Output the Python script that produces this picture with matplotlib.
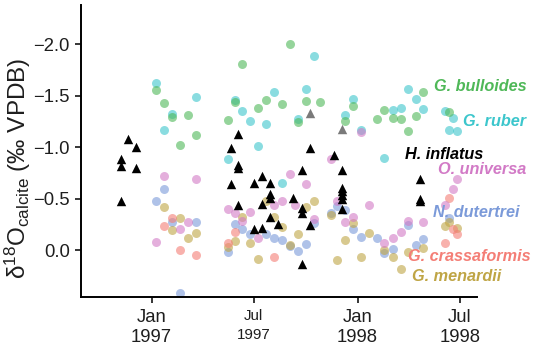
import matplotlib
matplotlib.use("Agg")
import matplotlib.pyplot as plt
import pandas as pd
import numpy as np

plt.rcParams['font.family'] = ['Liberation Sans', 'DejaVu Sans']
plt.rcParams['mathtext.fontset'] = 'custom'
plt.rcParams['mathtext.rm'] = 'Liberation Sans'
plt.rcParams['mathtext.it'] = 'Liberation Sans:italic'

# ---------------- data (date, d18O) ----------------
bull_dates = ["1997-01-09", "1997-01-23", "1997-02-06", "1997-02-20", "1997-03-06", "1997-03-20",
              "1997-05-17", "1997-05-28", "1997-06-11", "1997-07-09", "1997-07-23", "1997-08-20",
              "1997-09-03", "1997-09-17", "1997-10-01", "1997-10-27", "1997-12-10", "1997-12-24",
              "1998-02-04", "1998-02-17", "1998-03-04", "1998-03-18", "1998-04-01", "1998-04-15",
              "1998-04-27", "1998-06-12"]
bull_vals = [-1.55, -1.43, -1.29, -1.02, -1.31, -1.12,
             -1.26, -1.44, -1.81, -1.38, -1.46, -1.42,
             -2.00, -1.24, -1.45, -1.44, -1.25, -1.40,
             -1.27, -1.36, -1.28, -1.27, -1.16, -1.30,
             -1.53, -1.34]

ruber_dates = ["1997-01-09", "1997-01-23", "1997-02-06", "1997-03-20",
               "1997-05-17", "1997-05-28", "1997-06-11", "1997-06-25", "1997-07-09", "1997-07-23",
               "1997-08-06", "1997-08-20", "1997-09-17", "1997-10-01", "1997-10-15", "1997-12-10",
               "1997-12-24", "1998-01-07", "1998-02-17", "1998-03-04", "1998-03-18", "1998-04-01",
               "1998-04-15", "1998-04-27", "1998-06-05", "1998-06-12", "1998-06-19", "1998-06-26"]
ruber_vals = [-1.62, -1.17, -1.32, -1.49,
              -0.88, -1.46, -1.35, -1.25, -1.01, -1.22,
              -1.53, -0.65, -1.27, -1.56, -1.88, -1.31,
              -1.47, -1.17, -0.89, -1.36, -1.38, -1.56,
              -1.47, -1.37, -1.35, -1.17, -1.28, -1.16]

univ_dates = ["1997-01-09", "1997-01-23", "1997-02-20", "1997-03-06", "1997-03-20",
              "1997-05-17", "1997-05-28", "1997-06-11", "1997-06-25", "1997-07-09", "1997-08-06",
              "1997-08-20", "1997-09-03", "1997-09-12", "1997-10-01", "1997-10-15", "1997-11-15",
              "1997-11-26", "1997-12-10", "1997-12-24", "1998-01-07", "1998-01-21", "1998-02-17",
              "1998-03-04", "1998-03-18", "1998-04-01", "1998-04-27", "1998-06-05", "1998-06-19",
              "1998-06-26"]
univ_vals = [-0.08, -0.72, -0.20, -0.27, -0.69,
             -0.40, -0.36, -0.28, -0.37, -0.12, -0.44,
             -0.48, -0.74, -0.44, -0.64, -0.30, -0.88,
             -0.48, -0.27, -0.32, -1.15, -0.44, -0.07,
             -0.12, -0.18, -0.28, -0.27, -0.44, -0.59,
             -0.69]

dut_dates = ["1997-01-09", "1997-01-23", "1997-02-06", "1997-02-20", "1997-03-20",
             "1997-05-17", "1997-05-28", "1997-06-11", "1997-06-25", "1997-07-23", "1997-08-06",
             "1997-08-20", "1997-09-03", "1997-09-17", "1997-10-01", "1997-10-15", "1997-11-15",
             "1997-11-26", "1997-12-10", "1997-12-24", "1998-01-07", "1998-02-04", "1998-02-17",
             "1998-03-04", "1998-04-01", "1998-04-15", "1998-04-27", "1998-06-12"]
dut_vals = [-0.48, -0.59, -0.27, 0.42, -0.27,
            0.02, -0.25, -0.20, -0.16, -0.16, -0.12,
            -0.10, -0.04, 0.01, -0.06, -0.26, -0.36,
            -0.43, -0.39, -0.20, -0.13, -0.12, 0.03,
            -0.01, -0.24, -0.05, -0.11, -0.31]

crass_dates = ["1997-01-23", "1997-02-06", "1997-02-20", "1997-03-20",
               "1997-05-17", "1997-05-28", "1997-08-06",
               "1998-06-05", "1998-06-12", "1998-06-19", "1998-06-26"]
crass_vals = [-0.23, -0.31, 0.00, 0.05,
              -0.07, -0.18, 0.07,
              -0.07, -0.51, -0.20, -0.16]

men_dates = ["1997-01-23", "1997-02-06", "1997-02-20", "1997-03-06", "1997-03-20",
             "1997-05-17", "1997-05-28", "1997-06-11", "1997-06-25", "1997-07-09", "1997-07-23",
             "1997-08-06", "1997-08-20", "1997-09-03", "1997-09-17", "1997-10-01", "1997-10-15",
             "1997-11-15", "1997-11-26", "1997-12-10", "1997-12-24", "1998-01-07", "1998-01-21",
             "1998-02-17", "1998-03-04", "1998-03-18", "1998-04-01", "1998-04-27", "1998-06-05",
             "1998-06-12", "1998-06-26"]
men_vals = [-0.42, -0.19, -0.31, -0.12, -0.17,
            -0.03, -0.09, -0.32, -0.07, 0.09, -0.48,
            -0.32, -0.22, -0.05, -0.16, -0.42, -0.48,
            -0.34, 0.10, -0.10, -0.26, 0.07, -0.17,
            0.00, 0.07, 0.18, 0.02, -0.02, -0.23,
            -0.27, -0.21]

infl_dates = ["1996-11-07", "1996-11-07", "1996-11-07", "1996-11-21", "1996-12-05", "1996-12-05",
              "1997-05-21", "1997-05-21", "1997-06-03", "1997-06-03", "1997-06-03", "1997-06-03",
              "1997-07-02", "1997-07-02", "1997-07-16", "1997-07-16", "1997-07-16",
              "1997-07-30", "1997-07-30", "1997-07-30", "1997-07-30", "1997-08-13", "1997-09-09",
              "1997-09-24", "1997-09-24", "1997-09-24", "1997-09-24", "1997-10-08", "1997-10-08",
              "1997-11-20", "1997-12-04", "1997-12-04", "1997-12-04", "1997-12-04", "1997-12-04",
              "1997-12-04", "1998-04-21", "1998-04-21", "1998-04-21"]
infl_vals = [-0.88, -0.82, -0.48, -1.08, -1.00, -0.80,
             -0.99, -0.64, -1.13, -0.83, -0.80, -0.44,
             -0.65, -0.20, -0.72, -0.45, -0.21,
             -0.65, -0.54, -0.51, -0.32, -0.25, -0.51,
             -0.78, -0.41, -0.36, 0.14, -0.99, -0.24,
             -0.92, -0.78, -0.60, -0.57, -0.53, -0.50,
             -0.40, -0.69, -0.50, -0.48]

infl_grey_dates = ["1997-10-08", "1997-12-04"]
infl_grey_vals = [-1.33, -1.18]

species = ["G. bulloides", "G. ruber", "H. inflatus", "O. universa",
           "N. dutertrei", "G. crassaformis", "G. menardii"]
colors = {"G. bulloides": "#4FB858", "G. ruber": "#3CC6CC", "H. inflatus": "#000000",
          "O. universa": "#D27AC6", "N. dutertrei": "#7B9AD9",
          "G. crassaformis": "#F47E76", "G. menardii": "#BFA545"}
label_dates = ["1998-05-17", "1998-07-07", "1998-03-26", "1998-05-24",
               "1998-05-14", "1998-04-01", "1998-04-07"]
label_vals = [-1.585, -1.245, -0.93, -0.78, -0.366, 0.065, 0.26]

tick_dates = ["1997-01-01", "1997-07-01", "1998-01-01", "1998-07-01"]
tick_labels = ["Jan\n1997", "Jul\n1997", "Jan\n1998", "Jul\n1998"]
yticks = [-2.0, -1.5, -1.0, -0.5, 0.0]

# ---------------- plot ----------------
fig = plt.figure(figsize=(5.36, 3.46), dpi=100)
ax = fig.add_axes([0.1511, 0.1425, 0.7394, 0.843])

def td(d):
    return pd.to_datetime(d)

dot_kw = dict(s=42, alpha=0.6, linewidths=0, zorder=2)
series = [("G. ruber", ruber_dates, ruber_vals),
          ("G. bulloides", bull_dates, bull_vals),
          ("N. dutertrei", dut_dates, dut_vals),
          ("G. menardii", men_dates, men_vals),
          ("G. crassaformis", crass_dates, crass_vals),
          ("O. universa", univ_dates, univ_vals)]
for name, d, v in series:
    ax.scatter(td(d), v, color=colors[name], **dot_kw)

ax.scatter(td(infl_dates), infl_vals, marker='^', s=46, color='black', linewidths=0, zorder=3)
ax.scatter(td(infl_grey_dates), infl_grey_vals, marker='^', s=46, color='#7a7a7a', linewidths=0, zorder=3)

for name, d, v in zip(species, label_dates, label_vals):
    ax.text(td(d), v, name, color=colors[name], fontsize=11.7, fontweight='bold',
            fontstyle='italic', ha='left', va='center', zorder=4)

ax.set_xlim(td("1997-01-01") - pd.Timedelta(days=125), td("1997-01-01") + pd.Timedelta(days=577))
ax.set_ylim(0.453, -2.379)

ax.set_xticks(td(tick_dates))
ax.set_xticklabels(tick_labels)
ax.set_yticks(yticks)
ax.set_yticklabels([f"{t:.1f}".replace("-", "\u2212") if t != 0 else "0.0" for t in yticks])

ax.tick_params(axis='both', length=4, width=1.1, color='black', labelsize=13.3,
               labelcolor='#1e1e1e')
ax.tick_params(axis='x', pad=5)
ax.tick_params(axis='y', pad=4)
for lab in ax.get_xticklabels():
    lab.set_linespacing(1.22)
small = ax.get_xticklabels()[1]
small.set_fontsize(10.8)
small.set_linespacing(1.45)

for s in ['top', 'right']:
    ax.spines[s].set_visible(False)
for s in ['left', 'bottom']:
    ax.spines[s].set_linewidth(1.4)
    ax.spines[s].set_color('black')

ax.set_ylabel('δ$^{\\rm 18}$O$_{\\rm calcite}$ (‰ VPDB)', fontsize=17.5, color='#1e1e1e')
ax.yaxis.set_label_coords(-0.122, 0.44)

fig.savefig("out.png", dpi=100)
